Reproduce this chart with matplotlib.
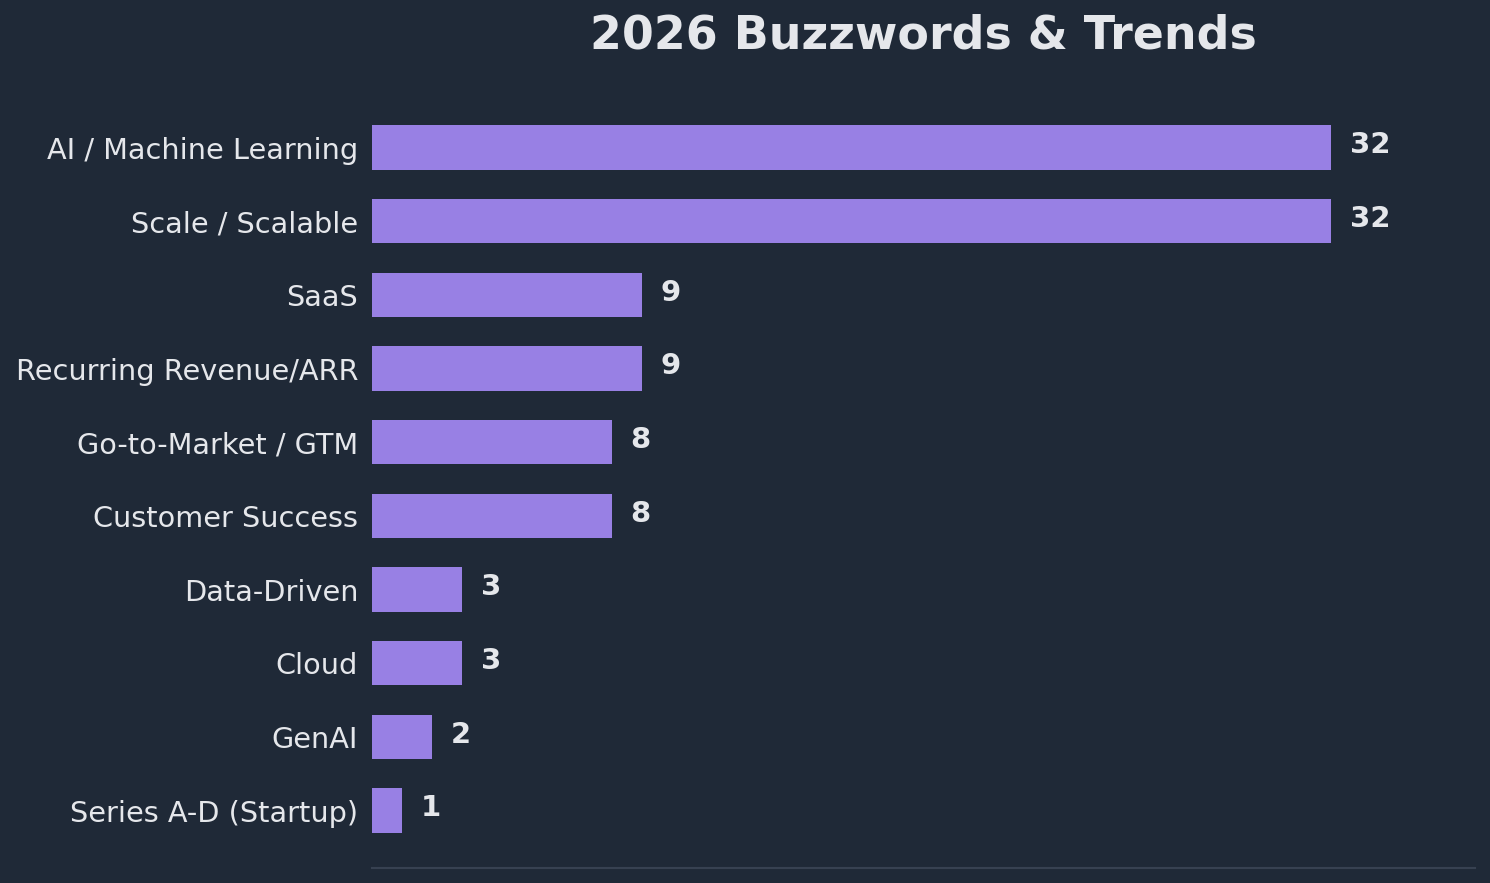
import matplotlib
matplotlib.use("Agg")
import matplotlib.pyplot as plt

# buzzword counts, top to bottom as shown
terms = ["AI / Machine Learning", "Scale / Scalable", "SaaS", "Recurring Revenue/ARR",
         "Go-to-Market / GTM", "Customer Success", "Data-Driven", "Cloud", "GenAI",
         "Series A-D (Startup)"]
counts = [32, 32, 9, 9, 8, 8, 3, 3, 2, 1]

bg = "#1f2937"
bar_color = "#9880e4"
text_color = "#e5e7eb"

fig = plt.figure(figsize=(14.9, 8.83), dpi=100, facecolor=bg)
ax = fig.add_axes([0.2497, 0.017, 0.7403, 0.881], facecolor=bg)

ypos = list(range(len(terms)))[::-1]
ax.barh(ypos, counts, height=0.6, color=bar_color)

for y, c in zip(ypos, counts):
    ax.text(c + 0.63, y + 0.03, str(c), va="center", ha="left",
            fontsize=21, fontweight="bold", color=text_color)

ax.set_yticks(ypos)
ax.set_yticklabels(terms, fontsize=20.7, color=text_color)
ax.tick_params(axis="y", length=0, pad=10)
ax.set_xticks([])
ax.set_xlim(0, max(counts) * 1.15)

for s in ["top", "right", "left"]:
    ax.spines[s].set_visible(False)
ax.spines["bottom"].set_color("#374151")
ax.spines["bottom"].set_linewidth(1.5)

ax.set_title("2026 Buzzwords & Trends", fontsize=33, fontweight="bold",
             color=text_color, pad=30)

fig.savefig("out.png", facecolor=bg)
